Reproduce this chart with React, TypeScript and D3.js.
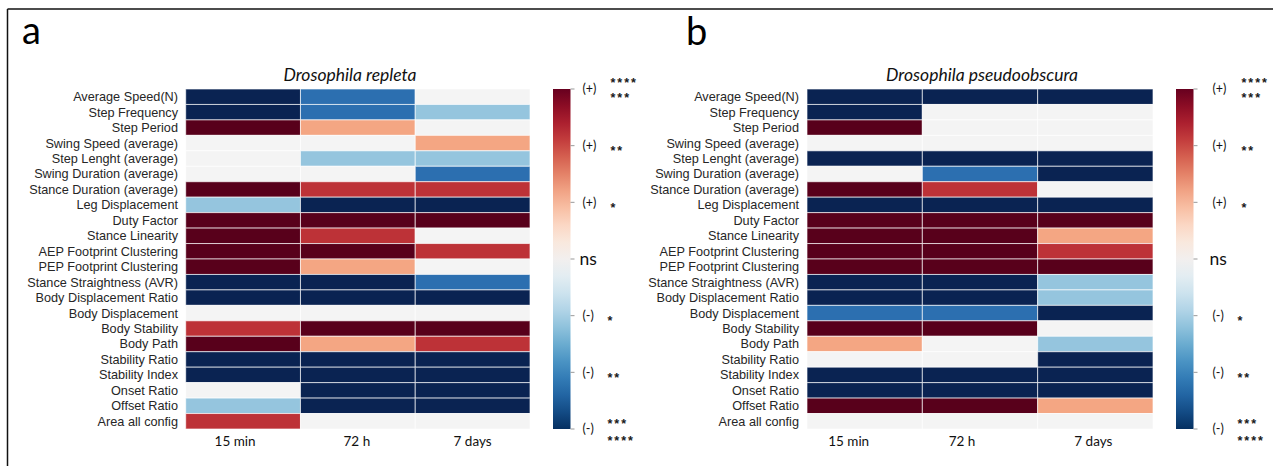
import React from "react";
import * as d3 from "d3";

const rowLabels = [
  "Average Speed(N)",
  "Step Frequency",
  "Step Period",
  "Swing Speed (average)",
  "Step Lenght (average)",
  "Swing Duration (average)",
  "Stance Duration (average)",
  "Leg Displacement",
  "Duty Factor",
  "Stance Linearity",
  "AEP Footprint Clustering",
  "PEP Footprint Clustering",
  "Stance Straightness (AVR)",
  "Body Displacement Ratio",
  "Body Displacement",
  "Body Stability",
  "Body Path",
  "Stability Ratio",
  "Stability Index",
  "Onset Ratio",
  "Offset Ratio",
  "Area all config",
];

const timePoints = ["15 min", "72 h", "7 days"];

// significance score: +3 = (+)***/****, ..., 0 = ns, ..., -3 = (-)***/****
const repletaValues = [
  [-3, -2, 0],
  [-3, -2, -1],
  [3, 1, 0],
  [0, 0, 1],
  [0, -1, -1],
  [0, 0, -2],
  [3, 2, 2],
  [-1, -3, -3],
  [3, 3, 3],
  [3, 2, 0],
  [3, 3, 2],
  [3, 1, 0],
  [-3, -3, -2],
  [-3, -3, -3],
  [0, 0, 0],
  [2, 3, 3],
  [3, 1, 2],
  [-3, -3, -3],
  [-3, -3, -3],
  [0, -3, -3],
  [-1, -3, -3],
  [2, 0, 0],
];

const pseudoobscuraValues = [
  [-3, -3, -3],
  [-3, 0, 0],
  [3, 0, 0],
  [0, 0, 0],
  [-3, -3, -3],
  [0, -2, -3],
  [3, 2, 0],
  [-3, -3, -3],
  [3, 3, 3],
  [3, 3, 1],
  [3, 3, 2],
  [3, 3, 3],
  [-3, -3, -1],
  [-3, -3, -1],
  [-2, -2, -3],
  [3, 3, 0],
  [1, 0, -1],
  [0, 0, -3],
  [-3, -3, -3],
  [-3, -3, -3],
  [3, 3, 1],
  [0, 0, 0],
];

const cbTickValues = [3, 2, 1, 0, -1, -2, -3];
const cbTickLabels = ["(+)", "(+)", "(+)", "ns", "(-)", "(-)", "(-)"];
const cbStars = ["***", "**", "*", "", "*", "**", "***"];

const W = 1273;
const H = 466;
const TOP = 89;
const BOTTOM = 429;

const cellColor = d3
  .scaleLinear<string>()
  .domain([-3, -2, -1, 0, 1, 2, 3])
  .range(["#0a2352", "#2c6fb0", "#95c5de", "#f4f4f4", "#f4a683", "#bd3237", "#58001b"]);

const panels = [
  {
    id: "a",
    letterX: 22,
    letterY: 44,
    title: "Drosophila repleta",
    titleX: 350,
    values: repletaValues,
    x0: 185.7,
    x1: 530,
    labelX: 178,
    cbX: 553,
    labOff: 12,
    posStarOff: 40,
    negStarOff: 37,
    colLabelDx: [-8, -1, 0],
  },
  {
    id: "b",
    letterX: 686,
    letterY: 45,
    title: "Drosophila pseudoobscura",
    titleX: 982,
    values: pseudoobscuraValues,
    x0: 807,
    x1: 1153,
    labelX: 799,
    cbX: 1176,
    labOff: 19,
    posStarOff: 48,
    negStarOff: 44,
    colLabelDx: [-16, -18, -2],
  },
];

const CB_W = 17.5;
const calibri = "Lato, 'Open Sans', sans-serif";
const arial = "'Liberation Sans', Arial, sans-serif";

function Stars({ x, y, s }: { x: number; y: number; s: string }) {
  return (
    <text
      x={x}
      y={y}
      dy="0.62em"
      fontFamily={arial}
      fontSize={12.5}
      fontWeight="bold"
      letterSpacing={2}
      fill="#1a1a1a"
    >
      {s}
    </text>
  );
}

function Panel({ p }: { p: (typeof panels)[number] }) {
  const x = d3.scaleBand<string>().domain(timePoints).range([p.x0, p.x1]);
  const y = d3.scaleBand<string>().domain(rowLabels).range([TOP, BOTTOM]);
  const cy = d3.scaleLinear().domain([3, -3]).range([TOP, BOTTOM]);
  const gradId = `grad-${p.id}`;
  const stops = d3.range(0, 1.0001, 0.05);
  return (
    <g>
      <text
        x={p.letterX}
        y={p.letterY}
        fontFamily={calibri}
        fontSize={38}
        fill="#000"
      >
        {p.id}
      </text>
      <text
        x={p.titleX}
        y={81}
        textAnchor="middle"
        fontFamily={calibri}
        fontStyle="italic"
        fontSize={17.5}
        fill="#111"
      >
        {p.title}
      </text>
      {p.values.map((row, ri) =>
        row.map((v, ci) => (
          <rect
            key={`${ri}-${ci}`}
            x={x(timePoints[ci])}
            y={y(rowLabels[ri])}
            width={x.bandwidth()}
            height={y.bandwidth()}
            fill={cellColor(v)}
            stroke="rgba(255,255,255,0.65)"
            strokeWidth={1}
          />
        ))
      )}
      {rowLabels.map((l) => (
        <text
          key={l}
          x={p.labelX}
          y={(y(l) as number) + y.bandwidth() / 2}
          dy="0.35em"
          textAnchor="end"
          fontFamily={arial}
          fontSize={12.7}
          fill="#262626"
        >
          {l}
        </text>
      ))}
      {timePoints.map((t, i) => (
        <text
          key={t}
          x={(x(t) as number) + x.bandwidth() / 2 + p.colLabelDx[i]}
          y={446}
          textAnchor="middle"
          fontFamily={calibri}
          fontSize={13.5}
          fill="#111"
        >
          {t}
        </text>
      ))}
      <defs>
        <linearGradient id={gradId} x1="0" y1="0" x2="0" y2="1">
          {stops.map((s) => (
            <stop key={s} offset={s} stopColor={d3.interpolateRdBu(s)} />
          ))}
        </linearGradient>
      </defs>
      <rect
        x={p.cbX}
        y={TOP}
        width={CB_W}
        height={BOTTOM - TOP}
        fill={`url(#${gradId})`}
      />
      {cbTickValues.map((v, i) => {
        const ty = cy(v);
        const isNs = v === 0;
        const starX = p.cbX + CB_W + (v > 0 ? p.posStarOff : p.negStarOff);
        return (
          <g key={i}>
            <line
              x1={p.cbX + CB_W}
              x2={p.cbX + CB_W + 4}
              y1={ty}
              y2={ty}
              stroke="#999"
              strokeWidth={1}
            />
            <text
              x={p.cbX + CB_W + p.labOff - (isNs ? 3 : 0)}
              y={ty}
              dy="0.35em"
              fontFamily={calibri}
              fontSize={isNs ? 17.5 : 12.5}
              fill="#111"
            >
              {cbTickLabels[i]}
            </text>
            {Math.abs(v) === 3 ? (
              <>
                <Stars
                  x={starX}
                  y={v > 0 ? ty - 10 : ty - 9}
                  s={v > 0 ? "****" : cbStars[i]}
                />
                <Stars
                  x={starX}
                  y={v > 0 ? ty + 5 : ty + 8}
                  s={v > 0 ? cbStars[i] : "****"}
                />
              </>
            ) : (
              <Stars x={starX} y={ty + 2} s={cbStars[i]} />
            )}
          </g>
        );
      })}
    </g>
  );
}

export default function App() {
  return (
    <svg
      width={W}
      height={H}
      style={{ position: "absolute", left: 0, top: 0, background: "#fff" }}
    >
      <rect x={0} y={0} width={W} height={H} fill="#fff" />
      <line x1={7.5} y1={9} x2={W} y2={9} stroke="#111" strokeWidth={1.5} />
      <line x1={7.5} y1={9} x2={7.5} y2={H} stroke="#111" strokeWidth={1.5} />
      {panels.map((p) => (
        <Panel key={p.id} p={p} />
      ))}
    </svg>
  );
}
